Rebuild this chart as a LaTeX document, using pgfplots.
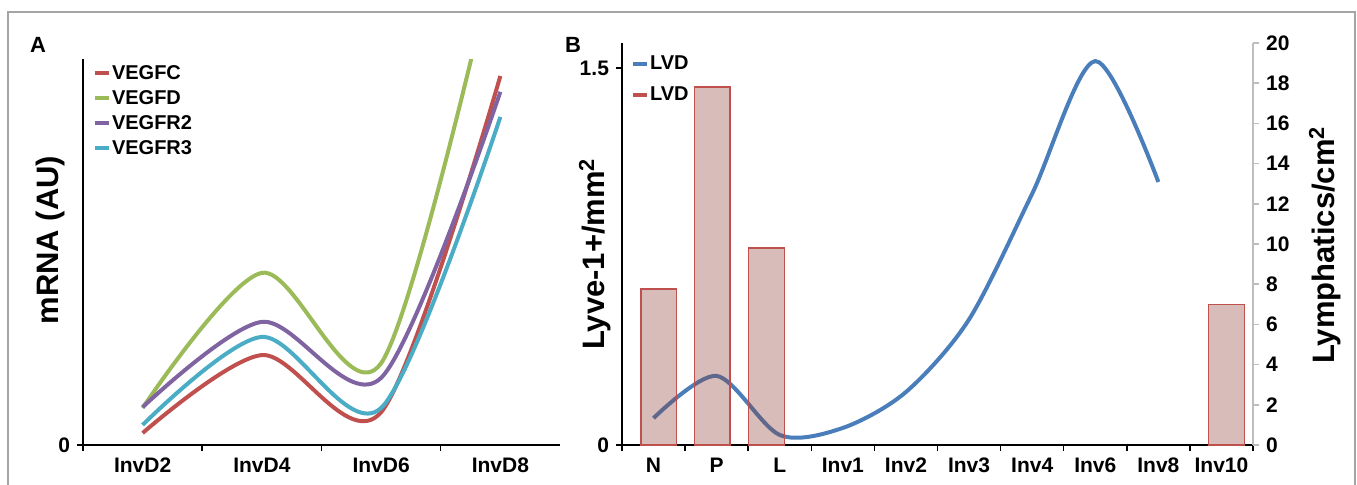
\documentclass[border=0pt]{standalone}
\usepackage{fontspec}
\setmainfont{Liberation Sans}
\usepackage{pgfplots}
\pgfplotsset{compat=1.18}
\definecolor{xred}{RGB}{192,80,77}
\definecolor{xgreen}{RGB}{155,187,89}
\definecolor{xpurple}{RGB}{128,100,162}
\definecolor{xcyan}{RGB}{75,172,198}
\definecolor{xblue}{RGB}{74,126,187}
\definecolor{xbar}{RGB}{140,60,50}
\definecolor{xframe}{RGB}{165,165,165}
\definecolor{xgray}{RGB}{190,190,190}
\newcommand\tickfont{\bfseries\fontsize{10.5}{12}\selectfont}
\newcommand\labfont{\bfseries\fontsize{15.5}{18}\selectfont}
\newcommand\legfont{\bfseries\fontsize{10}{12}\selectfont}
\pgfplotsset{panel/.style={scale only axis, anchor=south west,
  axis line style={line width=0.75pt}, tick style={line width=0.75pt, black},
  tick align=outside, major tick length=3pt,
  ticklabel style={font=\tickfont},
  legend style={draw=none, fill=none, inner sep=0pt, font=\legfont, anchor=north west,
    nodes={text height=8pt, text depth=2pt, inner ysep=1.25pt, inner xsep=0.3pt}},
  legend cell align=left,
  legend image code/.code={\draw[#1, line width=2pt] (0pt,0pt) -- (7pt,0pt);}}}

\begin{document}
\begin{tikzpicture}
\path[use as bounding box] (0,0) rectangle (678.5pt,242pt);
\draw[xframe, line width=0.75pt] (4pt,-5pt) -- (4pt,236pt) -- (677.5pt,236pt) -- (677.5pt,-5pt);

% panel A
\begin{axis}[panel, at={(41.5pt,19.5pt)}, width=238.5pt, height=193pt,
  xmin=-0.5, xmax=3.5, ymin=0, ymax=1,
  axis x line*=bottom, axis y line*=left,
  xtick={-0.5,0.5,1.5,2.5}, xticklabels={InvD2,InvD4,InvD6,InvD8},
  xticklabel style={xshift=29.8pt},
  ytick={0}, yticklabels={0},
  legend style={at={(rel axis cs:0.021,0.996)}},
  every axis plot/.append style={line width=2pt, smooth, tension=0.5, no markers}]
\addplot[xred] coordinates {(0,0.031) (1,0.233) (2,0.085) (3,0.956)};
\addlegendentry{VEGFC}
\addplot[xgreen] coordinates {(0,0.096) (1,0.446) (2,0.212) (3,1.32)};
\addlegendentry{VEGFD}
\addplot[xpurple] coordinates {(0,0.098) (1,0.319) (2,0.174) (3,0.915)};
\addlegendentry{VEGFR2}
\addplot[xcyan] coordinates {(0,0.052) (1,0.280) (2,0.096) (3,0.850)};
\addlegendentry{VEGFR3}
\end{axis}

% panel B, left axis (line)
\begin{axis}[panel, at={(311pt,19.5pt)}, width=315.5pt, height=201pt,
  xmin=-0.5, xmax=9.5, ymin=0, ymax=1.6,
  axis x line*=bottom, axis y line*=left,
  xtick={-0.5,0.5,...,9.5},
  xticklabels={N,P,L,Inv1,Inv2,Inv3,Inv4,Inv6,Inv8,Inv10,{}},
  xticklabel style={xshift=15.78pt},
  ytick={0,1.5}, yticklabels={0,1.5}]
\addplot[xblue, line width=2pt, smooth, tension=0.5, no markers] coordinates {
  (0,0.107) (1,0.275) (2,0.040) (3,0.068) (4,0.211) (5,0.500) (6,1.000) (7,1.528) (8,1.047)};
\end{axis}

% panel B, right axis (bars)
\begin{axis}[panel, at={(311pt,19.5pt)}, width=315.5pt, height=201pt,
  xmin=-0.5, xmax=9.5, ymin=0, ymax=20,
  axis x line=none, axis y line*=right,
  axis line style={xgray}, tick style={line width=0.75pt, xgray},
  ytick={0,2,4,6,8,10,12,14,16,18,20},
  yticklabels={0,2,4,6,8,10,12,14,16,18,20},
  legend style={at={(rel axis cs:0.0143,0.981)}, row sep=3pt}]
\addlegendimage{xblue}
\addlegendentry{LVD}
\addlegendimage{xred}
\addlegendentry{LVD}
\addplot[ybar, bar width=0.565, bar shift=0pt, fill=xbar, fill opacity=0.34,
  draw=xred, line width=0.75pt, forget plot]
  coordinates {(0.08,7.76) (0.93,17.8) (1.79,9.8) (9.08,7.0)};
\end{axis}

\node[font=\bfseries\fontsize{11}{12}\selectfont] at (19pt,219.5pt) {A};
\node[font=\bfseries\fontsize{11}{12}\selectfont] at (286.5pt,219.5pt) {B};
\node[rotate=90, font=\labfont] at (25pt,122pt) {mRNA (AU)};
\node[rotate=90, font=\labfont] at (297.5pt,115pt) {Lyve-1+/mm\textsuperscript{2}};
\node[rotate=90, font=\labfont] at (662.5pt,119.5pt) {Lymphatics/cm\textsuperscript{2}};
\end{tikzpicture}
\end{document}
